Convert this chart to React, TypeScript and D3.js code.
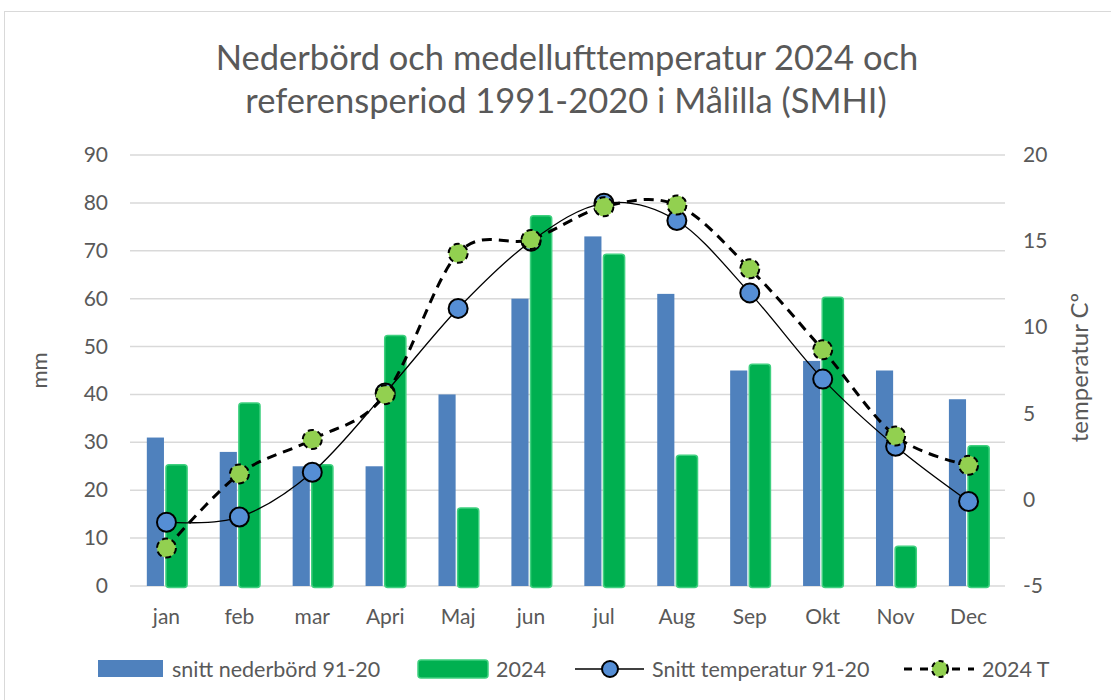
import { useRef, useEffect } from 'react';
import * as d3 from 'd3';

const MONTHS = ['jan', 'feb', 'mar', 'Apri', 'Maj', 'jun', 'jul', 'Aug', 'Sep', 'Okt', 'Nov', 'Dec'];
const RAIN_REF = [31, 28, 25, 25, 40, 60, 73, 61, 45, 47, 45, 39];
const RAIN_2024 = [25.3, 38.2, 25.3, 52.3, 16.3, 77.3, 69.3, 27.3, 46.3, 60.3, 8.3, 29.3];
const TEMP_REF = [-1.3, -1.0, 1.6, 6.2, 11.1, 15.0, 17.2, 16.2, 12.0, 7.0, 3.1, -0.1];
const TEMP_2024 = [-2.8, 1.5, 3.5, 6.1, 14.3, 15.1, 17.0, 17.1, 13.4, 8.7, 3.7, 2.0];
const MM_TICKS = [0, 10, 20, 30, 40, 50, 60, 70, 80, 90];
const TEMP_TICKS = [-5, 0, 5, 10, 15, 20];

const TEXT = '#595959';
const BLUE = '#4f81bd';
const GREEN = '#00b050';
const LIGHT_GREEN = '#92d050';
const FONT = 'Lato, "Open Sans", sans-serif';

export default function App() {
  const svgRef = useRef<SVGSVGElement>(null);
  const width = 1111;
  const height = 700;

  useEffect(() => {
    if (!svgRef.current) return;
    const svg = d3.select(svgRef.current);
    svg.selectAll('*').remove();

    const margin = { top: 155, right: 106, bottom: 114, left: 130 };
    const w = width - margin.left - margin.right;
    const h = height - margin.top - margin.bottom;

    // chart border
    svg
      .append('rect')
      .attr('x', 4.5)
      .attr('y', 11.5)
      .attr('width', 1200)
      .attr('height', 800)
      .attr('fill', '#fff')
      .attr('stroke', '#d9d9d9')
      .attr('stroke-width', 1);

    const g = svg.append('g').attr('transform', `translate(${margin.left},${margin.top})`);

    const x = d3.scaleBand<string>().domain(MONTHS).range([0, w]);
    const y = d3.scaleLinear().domain([0, 90]).range([h, 0]);
    const yT = d3.scaleLinear().domain([-5, 20]).range([h, 0]);
    const bw = x.bandwidth();
    const cx = (m: string) => (x(m) || 0) + bw / 2;

    // gridlines
    g.selectAll('line.grid')
      .data(MM_TICKS)
      .join('line')
      .attr('x1', 0)
      .attr('x2', w)
      .attr('y1', (d) => y(d))
      .attr('y2', (d) => y(d))
      .attr('stroke', '#d9d9d9')
      .attr('stroke-width', 1.5);

    // blue bars
    const blueW = bw * 0.235;
    g.selectAll('rect.ref')
      .data(RAIN_REF)
      .join('rect')
      .attr('x', (_, i) => cx(MONTHS[i]) - 2.5 - blueW)
      .attr('y', (d) => y(d))
      .attr('width', blueW)
      .attr('height', (d) => h - y(d))
      .attr('fill', BLUE);

    // green bars
    const greenW = bw * 0.29;
    g.selectAll('rect.y2024')
      .data(RAIN_2024)
      .join('rect')
      .attr('x', (_, i) => cx(MONTHS[i]) - 0.5)
      .attr('y', (d) => y(d))
      .attr('width', greenW)
      .attr('height', (d) => h - y(d) + 1.5)
      .attr('rx', 3)
      .attr('fill', GREEN)
      .attr('stroke', '#3fd07f')
      .attr('stroke-width', 1.5);

    // left axis labels
    g.selectAll('text.ly')
      .data(MM_TICKS)
      .join('text')
      .attr('x', -22)
      .attr('y', (d) => y(d) + 7)
      .attr('text-anchor', 'end')
      .attr('fill', TEXT)
      .attr('font-size', '21px')
      .attr('font-family', FONT)
      .text((d) => d);

    // right axis labels
    g.selectAll('text.ry')
      .data(TEMP_TICKS)
      .join('text')
      .attr('x', w + 18)
      .attr('y', (d) => yT(d) + 7)
      .attr('text-anchor', 'start')
      .attr('fill', TEXT)
      .attr('font-size', '21px')
      .attr('font-family', FONT)
      .text((d) => d);

    // x labels
    g.selectAll('text.xl')
      .data(MONTHS)
      .join('text')
      .attr('x', (d) => cx(d))
      .attr('y', h + 38)
      .attr('text-anchor', 'middle')
      .attr('fill', TEXT)
      .attr('font-size', '21px')
      .attr('font-family', FONT)
      .text((d) => d);

    // temperature lines
    const line = d3
      .line<number>()
      .x((_, i) => cx(MONTHS[i]))
      .y((d) => yT(d))
      .curve(d3.curveCardinal.tension(0));

    g.append('path')
      .datum(TEMP_REF)
      .attr('d', line)
      .attr('fill', 'none')
      .attr('stroke', '#000')
      .attr('stroke-width', 1.3);

    g.selectAll('circle.ref')
      .data(TEMP_REF)
      .join('circle')
      .attr('cx', (_, i) => cx(MONTHS[i]))
      .attr('cy', (d) => yT(d))
      .attr('r', 9.5)
      .attr('fill', '#558ed5')
      .attr('stroke', '#000')
      .attr('stroke-width', 2);

    g.append('path')
      .datum(TEMP_2024)
      .attr('d', line)
      .attr('fill', 'none')
      .attr('stroke', '#000')
      .attr('stroke-width', 3)
      .attr('stroke-dasharray', '10,7');

    g.selectAll('circle.t24')
      .data(TEMP_2024)
      .join('circle')
      .attr('cx', (_, i) => cx(MONTHS[i]))
      .attr('cy', (d) => yT(d))
      .attr('r', 9.5)
      .attr('fill', LIGHT_GREEN)
      .attr('stroke', '#000')
      .attr('stroke-width', 2)
      .attr('stroke-dasharray', '6,4');

    // axis titles
    svg
      .append('text')
      .attr('transform', `translate(47,${margin.top + h / 2}) rotate(-90)`)
      .attr('text-anchor', 'middle')
      .attr('fill', TEXT)
      .attr('font-size', '22px')
      .attr('font-family', FONT)
      .text('mm');

    svg
      .append('text')
      .attr('transform', `translate(1088,${margin.top + h / 2 - 3}) rotate(-90)`)
      .attr('text-anchor', 'middle')
      .attr('fill', TEXT)
      .attr('font-size', '24px')
      .attr('font-family', FONT)
      .text('temperatur Cº');

    // title
    const title = svg
      .append('text')
      .attr('text-anchor', 'middle')
      .attr('fill', TEXT)
      .attr('font-size', '34.5px')
      .attr('font-family', FONT);
    title.append('tspan').attr('x', 567).attr('y', 70).text('Nederbörd och medellufttemperatur 2024 och');
    title.append('tspan').attr('x', 566).attr('y', 113).text('referensperiod 1991-2020 i Målilla (SMHI)');

    // legend
    const lg = svg.append('g').attr('font-family', FONT).attr('font-size', '21.5px').attr('fill', TEXT);
    lg.append('rect').attr('x', 98).attr('y', 660).attr('width', 65).attr('height', 17).attr('fill', BLUE);
    lg.append('text').attr('x', 172).attr('y', 677).text('snitt nederbörd 91-20');
    lg.append('rect')
      .attr('x', 418)
      .attr('y', 660)
      .attr('width', 70)
      .attr('height', 18)
      .attr('rx', 3)
      .attr('fill', GREEN)
      .attr('stroke', '#3fd07f')
      .attr('stroke-width', 1.5);
    lg.append('text').attr('x', 496).attr('y', 677).text('2024');
    lg.append('line').attr('x1', 575).attr('x2', 644).attr('y1', 669).attr('y2', 669).attr('stroke', '#000').attr('stroke-width', 1.3);
    lg.append('circle').attr('cx', 610).attr('cy', 669).attr('r', 8).attr('fill', '#558ed5').attr('stroke', '#000').attr('stroke-width', 2);
    lg.append('text').attr('x', 652).attr('y', 677).text('Snitt temperatur 91-20');
    lg.append('line')
      .attr('x1', 904)
      .attr('x2', 974)
      .attr('y1', 669)
      .attr('y2', 669)
      .attr('stroke', '#000')
      .attr('stroke-width', 3)
      .attr('stroke-dasharray', '8,8');
    lg.append('circle')
      .attr('cx', 940)
      .attr('cy', 669)
      .attr('r', 8)
      .attr('fill', LIGHT_GREEN)
      .attr('stroke', '#000')
      .attr('stroke-width', 2)
      .attr('stroke-dasharray', '5,4');
    lg.append('text').attr('x', 982).attr('y', 677).text('2024 T');
  }, []);

  return (
    <div style={{ position: 'fixed', left: 0, top: 0 }}>
      <svg ref={svgRef} width={width} height={height} style={{ display: 'block' }} />
    </div>
  );
}
